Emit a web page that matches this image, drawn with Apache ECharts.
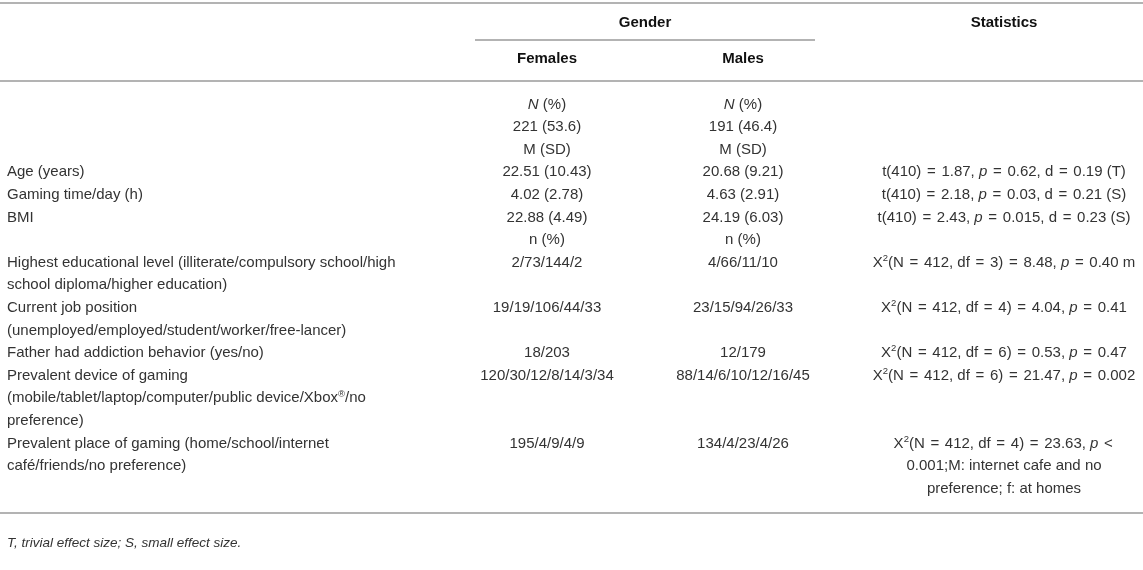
<!DOCTYPE html>
<html>
<head>
<meta charset="utf-8">
<script src="https://cdn.jsdelivr.net/npm/echarts@6/dist/echarts.min.js"></script>
<style>
html,body{margin:0;padding:0;background:#fff;}
#chart{width:1143px;height:570px;}
</style>
</head>
<body>
<div id="chart"></div>
<script>
// ---- table content ----
var headerGroup = 'Gender';
var headerCols = ['Females', 'Males'];
var headerStats = 'Statistics';

var rowLabels = [
  '', '', '',
  'Age (years)',
  'Gaming time/day (h)',
  'BMI',
  '',
  'Highest educational level (illiterate/compulsory school/high\nschool diploma/higher education)',
  'Current job position\n(unemployed/employed/student/worker/free-lancer)',
  'Father had addiction behavior (yes/no)',
  'Prevalent device of gaming\n(mobile/tablet/laptop/computer/public device/Xbox{sup|®}/no\npreference)',
  'Prevalent place of gaming (home/school/internet\ncafé/friends/no preference)'
];
var femalesCol = [
  '{it|N} (%)', '221 (53.6)', 'M (SD)',
  '22.51 (10.43)', '4.02 (2.78)', '22.88 (4.49)',
  'n (%)', '2/73/144/2', '19/19/106/44/33', '18/203',
  '120/30/12/8/14/3/34', '195/4/9/4/9'
];
var malesCol = [
  '{it|N} (%)', '191 (46.4)', 'M (SD)',
  '20.68 (9.21)', '4.63 (2.91)', '24.19 (6.03)',
  'n (%)', '4/66/11/10', '23/15/94/26/33', '12/179',
  '88/14/6/10/12/16/45', '134/4/23/4/26'
];
var statsCol = [
  '', '', '',
  't(410) = 1.87, {it|p} = 0.62, d = 0.19 (T)',
  't(410) = 2.18, {it|p} = 0.03, d = 0.21 (S)',
  't(410) = 2.43, {it|p} = 0.015, d = 0.23 (S)',
  '',
  'X{sup|2}(N = 412, df = 3) = 8.48, {it|p} = 0.40 m',
  'X{sup|2}(N = 412, df = 4) = 4.04, {it|p} = 0.41',
  'X{sup|2}(N = 412, df = 6) = 0.53, {it|p} = 0.47',
  'X{sup|2}(N = 412, df = 6) = 21.47, {it|p} = 0.002',
  'X{sup|2}(N = 412, df = 4) = 23.63, {it|p} <\n0.001;M: internet cafe and no\npreference; f: at homes'
];
var footnote = 'T, trivial effect size; S, small effect size.';

// ---- layout ----
var FONT = '"Liberation Sans", Arial, Helvetica, sans-serif';
var FS = 15;
var LH = 22.6;
var TXT = '#333333';
var HEAD = '#111111';
var LINE = '#b3b3b3';
var W = 1143;
var xLabel = 7, xF = 547, xM = 743, xS = 1004;
var firstTop = 104.5 - LH / 2;

function makeRich() {
  return {
    it: { fontStyle: 'italic', fontFamily: FONT, fontSize: FS, lineHeight: LH, fill: TXT },
    eq: { fontFamily: FONT, fontSize: FS, lineHeight: LH, fill: TXT, padding: [0, 1.5, 0, 1.5] },
    sup: { fontFamily: FONT, fontSize: 9.5, lineHeight: 10, verticalAlign: 'top', fill: TXT, padding: [2, 0, 0, 0] }
  };
}
function mathSpacing(s) { return s.replace(/ = /g, ' {eq|=} ').replace(/ < /g, ' {eq|<} ').replace(/ <\n/g, ' {eq|<}\n'); }

function textEl(x, y, str, align, opts) {
  opts = opts || {};
  return {
    type: 'text', x: x, y: y, silent: true,
    style: {
      text: str, fontFamily: FONT, fontSize: opts.fs || FS,
      fontWeight: opts.bold ? 'bold' : 'normal',
      fontStyle: opts.italic ? 'italic' : 'normal',
      fill: opts.color || TXT, align: align, verticalAlign: 'top',
      lineHeight: LH, rich: makeRich()
    }
  };
}
function lineEl(x1, x2, y) {
  return { type: 'line', silent: true, shape: { x1: x1, y1: y, x2: x2, y2: y },
    style: { stroke: LINE, lineWidth: 2 } };
}
function nLines(s) { return s ? s.split('\n').length : 1; }

var els = [];
els.push(lineEl(0, W, 3));
els.push(lineEl(475, 815, 40));
els.push(lineEl(0, W, 81));
els.push(textEl(645, 23 - LH / 2, headerGroup, 'center', { bold: true, color: HEAD }));
els.push(textEl(xS, 23 - LH / 2, headerStats, 'center', { bold: true, color: HEAD }));
els.push(textEl(xF, 59 - LH / 2, headerCols[0], 'center', { bold: true, color: HEAD }));
els.push(textEl(xM, 59 - LH / 2, headerCols[1], 'center', { bold: true, color: HEAD }));

var rowTop = firstTop;
for (var i = 0; i < rowLabels.length; i++) {
  var n = Math.max(nLines(rowLabels[i]), nLines(femalesCol[i]), nLines(malesCol[i]), nLines(statsCol[i]));
  if (rowLabels[i]) els.push(textEl(xLabel, rowTop, rowLabels[i], 'left'));
  if (femalesCol[i]) els.push(textEl(xF, rowTop, femalesCol[i], 'center'));
  if (malesCol[i]) els.push(textEl(xM, rowTop, malesCol[i], 'center'));
  if (statsCol[i]) els.push(textEl(xS, rowTop, mathSpacing(statsCol[i]), 'center'));
  rowTop += n * LH;
}
els.push(lineEl(0, W, 513));
els.push(textEl(xLabel, 543 - LH / 2, footnote, 'left', { italic: true, fs: 13.5 }));

var chart = echarts.init(document.getElementById('chart'), null, { renderer: 'canvas' });
chart.setOption({
  backgroundColor: '#fff',
  animation: false,
  graphic: { elements: els }
});
</script>
</body>
</html>
